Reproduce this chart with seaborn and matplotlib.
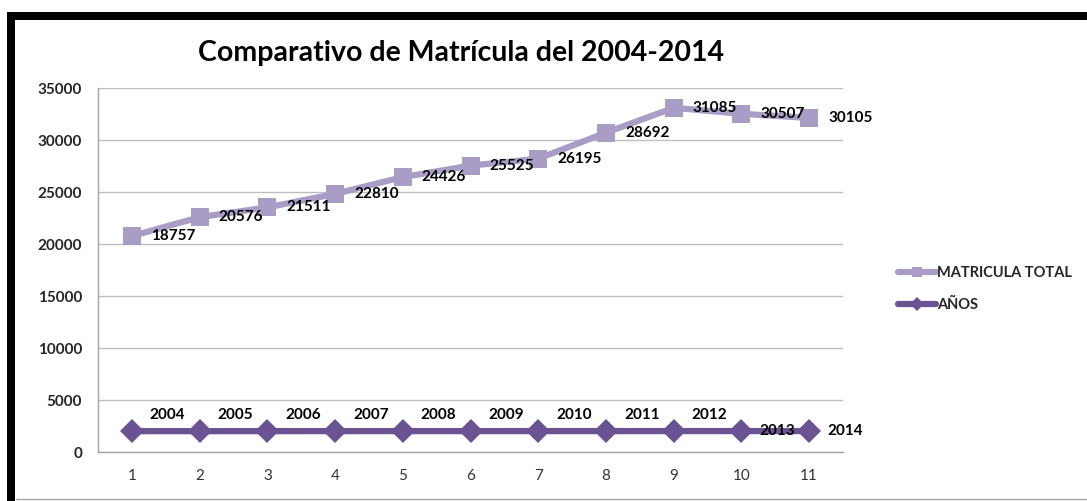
import pandas as pd
import matplotlib.pyplot as plt
import seaborn as sns
from matplotlib.lines import Line2D
from matplotlib.patches import Rectangle

# Datos
periodos = list(range(1, 12))
anios = [2004, 2005, 2006, 2007, 2008, 2009, 2010, 2011, 2012, 2013, 2014]
matricula = [18757, 20576, 21511, 22810, 24426, 25525, 26195, 28692, 31085, 30507, 30105]

# Gráfico de líneas apiladas (como en Excel): la matrícula va encima de los años
df = pd.DataFrame({"periodo": periodos, "anios": anios, "matricula": matricula})
df["apilado"] = df["anios"] + df["matricula"]

col_mat = "#A99DC6"
col_anio = "#6B5393"

sns.set_style("white")
plt.rcParams["font.family"] = ["Lato", "DejaVu Sans"]

fig = plt.figure(figsize=(10.87, 5.01), dpi=100)
ax = fig.add_axes([98 / 1087, 1 - 452 / 501, (843 - 98) / 1087, (452 - 88) / 501])

sns.lineplot(data=df, x="periodo", y="apilado", ax=ax, color=col_mat, lw=4.5,
             marker="s", markersize=13, markeredgewidth=0, label="MATRICULA TOTAL")
sns.lineplot(data=df, x="periodo", y="anios", ax=ax, color=col_anio, lw=4.5,
             marker="D", markersize=12, markeredgewidth=0, label="AÑOS")

# Etiquetas de datos
for x, y, v in zip(df["periodo"], df["apilado"], df["matricula"]):
    ax.annotate(str(v), (x, y), xytext=(19, 0), textcoords="offset pixels",
                ha="left", va="center", fontsize=11, fontweight="bold", color="black")
for i, (x, y, v) in enumerate(zip(df["periodo"], df["anios"], df["anios"])):
    dy = 16 if i < 9 else 0
    ax.annotate(str(v), (x, y), xytext=(18, dy), textcoords="offset pixels",
                ha="left", va="center", fontsize=11, fontweight="bold", color="black")

ax.set_xlim(0.5, 11.5)
ax.set_ylim(0, 35000)
ax.set_xticks(periodos)
ax.set_yticks(range(0, 35001, 5000))
ax.tick_params(axis="x", labelsize=11, pad=12, length=0, labelcolor="#333333")
ax.tick_params(axis="y", labelsize=11, pad=11.5, length=0)
for lab in ax.get_yticklabels():
    lab.set_fontweight("bold")
ax.set_xlabel("")
ax.set_ylabel("")
ax.grid(axis="y", color="#BFBFBF", lw=1)
for s in ["top", "right"]:
    ax.spines[s].set_visible(False)
for s in ["left", "bottom"]:
    ax.spines[s].set_color("#A6A6A6")
    ax.spines[s].set_linewidth(1)

ax.legend(loc="center left", bbox_to_anchor=((898 - 98) / 745, 1 - (289 - 88) / 364),
          frameon=False, borderaxespad=0, borderpad=0,
          prop={"weight": "bold", "size": 10.5}, handlelength=2.6, handletextpad=0.1,
          labelspacing=1.2, markerscale=0.6)

fig.text(461 / 1087, 1 - 53 / 501, "Comparativo de Matrícula del 2004-2014",
         ha="center", va="center", fontsize=20.5, fontweight="bold", color="black")

# Marco del gráfico
fig.add_artist(Rectangle((7 / 1087, 0), 8 / 1087, 1 - 12 / 501, transform=fig.transFigure,
                         color="black", lw=0))
fig.add_artist(Rectangle((7 / 1087, 1 - 20 / 501), 1, 8 / 501, transform=fig.transFigure,
                         color="black", lw=0))
fig.add_artist(Line2D([16 / 1087, 1], [2 / 501, 2 / 501], transform=fig.transFigure,
                      color="#A6A6A6", lw=1))

fig.savefig("out.png", dpi=100)
